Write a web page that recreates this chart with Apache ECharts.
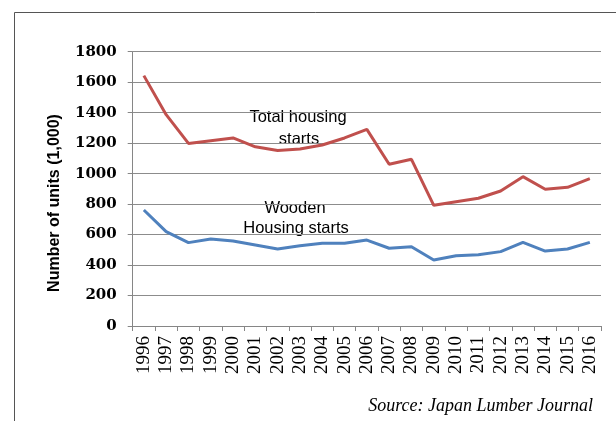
<!DOCTYPE html>
<html>
<head>
<meta charset="utf-8">
<script src="https://cdn.jsdelivr.net/npm/echarts@6/dist/echarts.min.js"></script>
<style>html,body{margin:0;padding:0;background:#fff}#c{width:616px;height:421px}</style>
</head>
<body>
<div id="c"></div>
<script>
var years = ['1996','1997','1998','1999','2000','2001','2002','2003','2004','2005','2006','2007','2008','2009','2010','2011','2012','2013','2014','2015','2016'];
var totalStarts = [1643,1387,1198,1216,1234,1176,1151,1161,1188,1234,1290,1061,1094,792,816,838,886,980,897,910,967];
var woodenStarts = [761,619,547,571,558,532,505,527,543,543,564,510,520,433,461,468,488,549,492,505,549];
var yTicks = {min:0, max:1800, interval:200};
var yTitle = 'Number of units (1,000)';
var sourceText = 'Source: Japan Lumber Journal';

var chart = echarts.init(document.getElementById('c'), null, {renderer:'canvas'});
chart.setOption({
  animation:false,
  backgroundColor:'#fff',
  grid:{left:132.7, top:51.7, right:15, bottom:95, containLabel:false},
  xAxis:{
    type:'category', data:years, boundaryGap:true,
    axisLine:{lineStyle:{color:'#868686', width:1}},
    axisTick:{show:true, interval:0, length:5, lineStyle:{color:'#868686'}},
    axisLabel:{interval:0, rotate:90, margin:10, color:'#000', fontFamily:'Liberation Serif', fontSize:19}
  },
  yAxis:{
    type:'value', min:yTicks.min, max:yTicks.max, interval:yTicks.interval,
    axisLine:{show:true, lineStyle:{color:'#868686'}},
    axisTick:{show:true, length:5, lineStyle:{color:'#868686'}},
    axisLabel:{margin:16, color:'#000', fontFamily:'DejaVu Serif', fontWeight:'bold', fontSize:15, formatter:function(v){return String(v);}},
    splitLine:{lineStyle:{color:'#8c8c8c', width:1}}
  },
  series:[
    {name:'Total housing starts', type:'line', data:totalStarts, symbol:'none', lineStyle:{color:'#C0504D', width:3}},
    {name:'Wooden Housing starts', type:'line', data:woodenStarts, symbol:'none', lineStyle:{color:'#4F81BD', width:3}}
  ],
  graphic:[
    {type:'rect', shape:{x:14.5, y:12.5, width:700, height:500}, style:{fill:null, stroke:'#555', lineWidth:1}, silent:true},
    {type:'text', x:55, y:203, rotation:Math.PI/2, style:{text:yTitle, fontFamily:'Liberation Sans', fontWeight:'bold', fontSize:16, fill:'#000', align:'center', verticalAlign:'middle'}},
    {type:'text', x:298, y:117, style:{text:'Total housing', fontFamily:'Liberation Sans', fontSize:16.5, fill:'#000', align:'center', verticalAlign:'middle'}},
    {type:'text', x:299, y:139, style:{text:'starts', fontFamily:'Liberation Sans', fontSize:16.5, fill:'#000', align:'center', verticalAlign:'middle'}},
    {type:'text', x:295, y:208, style:{text:'Wooden', fontFamily:'Liberation Sans', fontSize:16.5, fill:'#000', align:'center', verticalAlign:'middle'}},
    {type:'text', x:296, y:228, style:{text:'Housing starts', fontFamily:'Liberation Sans', fontSize:16.5, fill:'#000', align:'center', verticalAlign:'middle'}},
    {type:'text', x:593, y:406, style:{text:sourceText, fontFamily:'Liberation Serif', fontStyle:'italic', fontSize:18, fill:'#000', align:'right', verticalAlign:'middle'}}
  ]
});
</script>
</body>
</html>
